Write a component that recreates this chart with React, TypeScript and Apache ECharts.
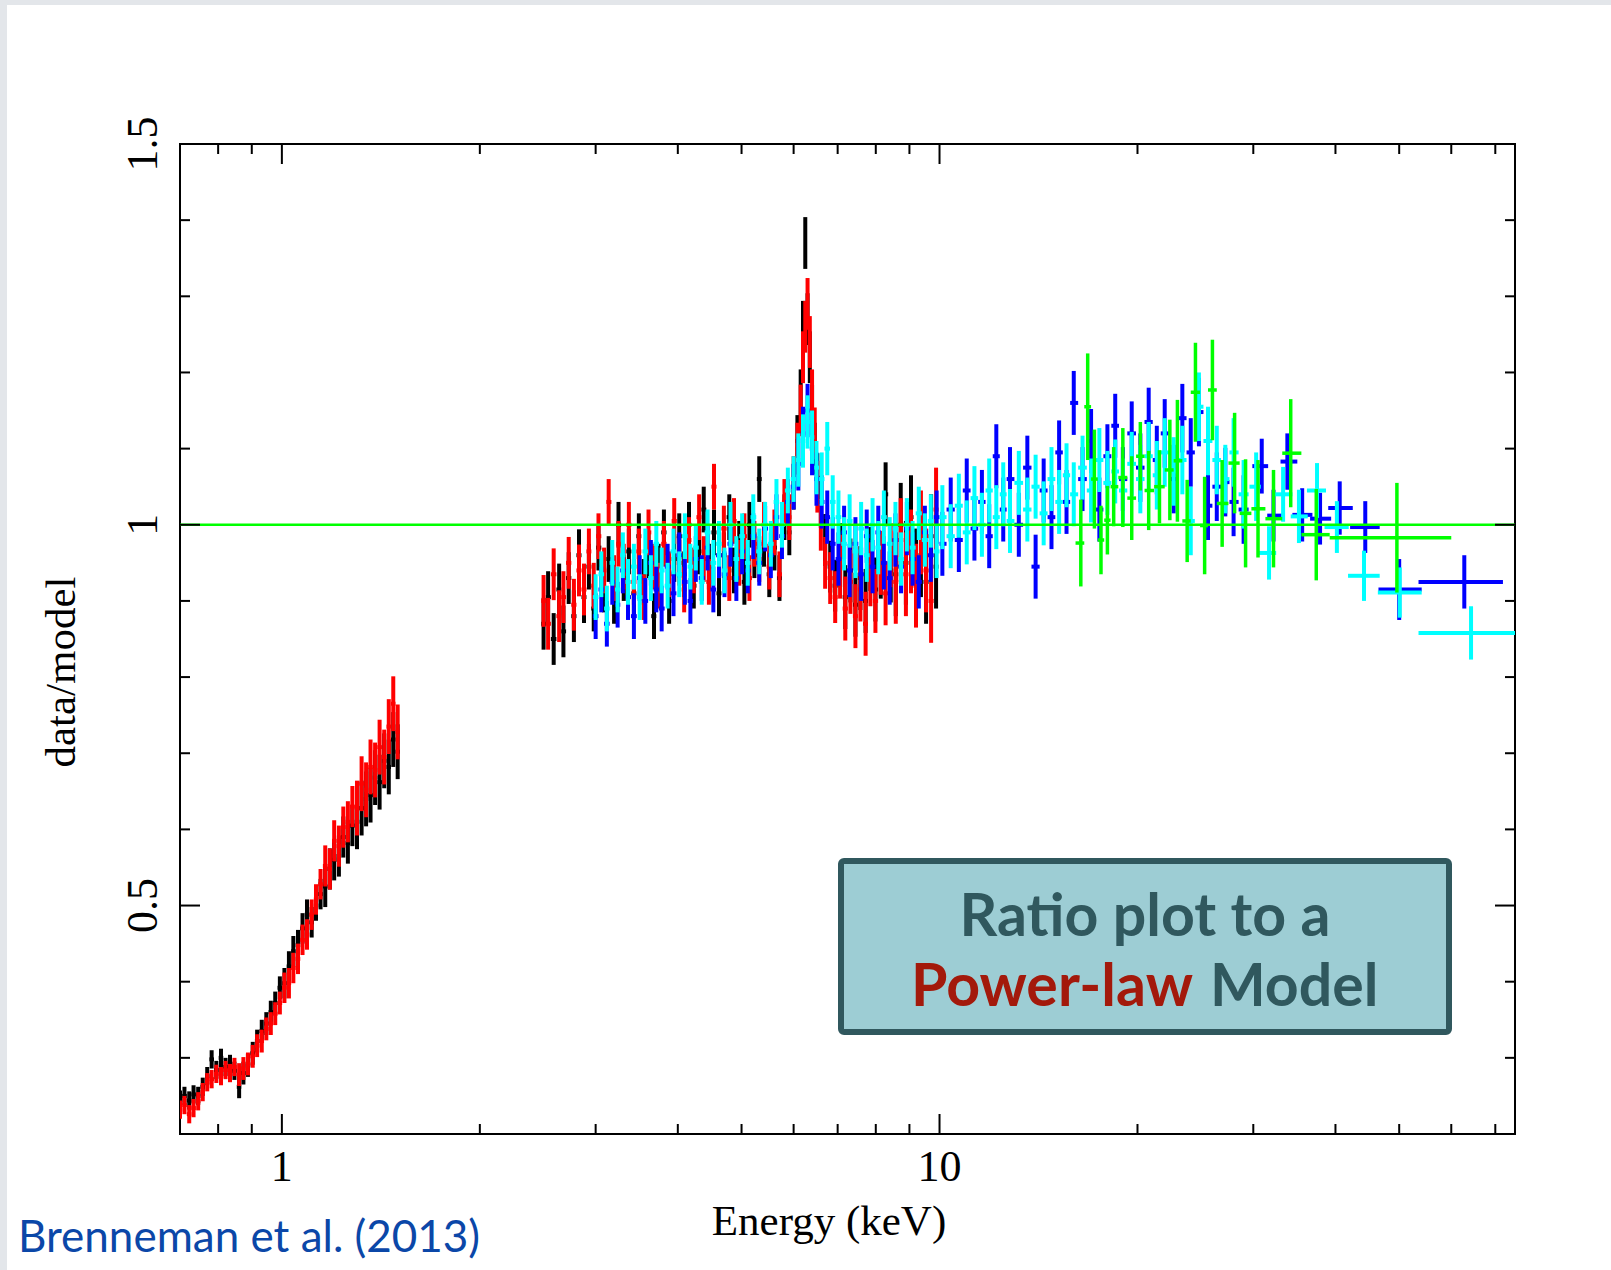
import React, { useEffect, useRef } from 'react';
import * as echarts from 'echarts';

const X_MIN = 0.7;
const X_MAX = 75;
const Y_MIN = 0.2;
const Y_MAX = 1.5;

const xMajorTicks = [1, 10];
const xMinorTicks = [0.8, 0.9, 2, 3, 4, 5, 6, 7, 8, 9, 20, 30, 40, 50, 60, 70];
const yMajorTicks = [0.5, 1.0];
const yMinorTicks = [0.3, 0.4, 0.6, 0.7, 0.8, 0.9, 1.1, 1.2, 1.3, 1.4];

// ---- soft band (black / red), 0.7 - 1.5 keV
const lowE = [0.700, 0.711, 0.723, 0.734, 0.746, 0.758, 0.770, 0.782, 0.795, 0.808, 0.821, 0.834, 0.847, 0.861, 0.874, 0.888, 0.903, 0.917, 0.932, 0.947, 0.962, 0.977, 0.993, 1.009, 1.025, 1.041, 1.058, 1.075, 1.092, 1.110, 1.127, 1.145, 1.164, 1.183, 1.201, 1.221, 1.240, 1.260, 1.280, 1.301, 1.322, 1.343, 1.364, 1.386, 1.408, 1.431, 1.454, 1.477, 1.500];
const blackLowR = [0.245, 0.250, 0.244, 0.252, 0.250, 0.262, 0.276, 0.298, 0.284, 0.300, 0.288, 0.292, 0.283, 0.262, 0.280, 0.290, 0.306, 0.322, 0.335, 0.345, 0.360, 0.372, 0.392, 0.398, 0.420, 0.440, 0.448, 0.470, 0.488, 0.478, 0.500, 0.515, 0.525, 0.548, 0.560, 0.565, 0.590, 0.582, 0.605, 0.610, 0.628, 0.640, 0.645, 0.668, 0.662, 0.690, 0.682, 0.718, 0.702];
const redLowR = [0.232, 0.238, 0.226, 0.234, 0.243, 0.255, 0.268, 0.272, 0.279, 0.276, 0.284, 0.280, 0.288, 0.278, 0.286, 0.292, 0.302, 0.316, 0.322, 0.338, 0.345, 0.358, 0.372, 0.392, 0.398, 0.418, 0.430, 0.455, 0.462, 0.488, 0.508, 0.528, 0.552, 0.548, 0.585, 0.578, 0.603, 0.610, 0.630, 0.628, 0.660, 0.652, 0.682, 0.678, 0.708, 0.695, 0.735, 0.765, 0.728];
const lowErr = [[0.85, 0.012], [1.0, 0.015], [1.15, 0.02], [1.3, 0.027], [1.6, 0.036]];

// ---- hard band (black / red), 2.5 - 10 keV
const hiE = [2.50, 2.54, 2.59, 2.64, 2.68, 2.73, 2.78, 2.83, 2.88, 2.93, 2.98, 3.03, 3.09, 3.14, 3.20, 3.25, 3.31, 3.37, 3.43, 3.49, 3.55, 3.61, 3.68, 3.74, 3.81, 3.88, 3.95, 4.02, 4.09, 4.16, 4.23, 4.31, 4.38, 4.46, 4.54, 4.62, 4.70, 4.79, 4.87, 4.96, 5.05, 5.14, 5.23, 5.32, 5.41, 5.51, 5.61, 5.71, 5.81, 5.91, 6.00, 6.08, 6.15, 6.20, 6.25, 6.30, 6.35, 6.40, 6.46, 6.52, 6.60, 6.70, 6.82, 6.94, 7.06, 7.19, 7.32, 7.45, 7.58, 7.72, 7.85, 7.99, 8.14, 8.28, 8.43, 8.58, 8.73, 8.89, 9.05, 9.21, 9.37, 9.54, 9.71, 9.88];
const blackHiR = [0.870, 0.905, 0.850, 0.915, 0.860, 0.930, 0.880, 0.960, 0.905, 0.945, 0.890, 0.970, 0.915, 0.955, 0.900, 1.000, 0.930, 0.965, 0.910, 0.985, 0.925, 0.960, 0.880, 0.945, 0.990, 0.900, 0.955, 0.985, 0.935, 1.000, 0.920, 0.965, 1.020, 0.945, 0.990, 0.910, 0.960, 1.010, 0.940, 0.975, 0.925, 1.000, 0.960, 1.060, 0.975, 0.935, 0.970, 0.930, 1.010, 0.990, 1.050, 1.110, 1.170, 1.260, 1.370, 1.270, 1.220, 1.150, 1.100, 1.060, 1.030, 0.980, 0.945, 0.920, 0.960, 0.905, 0.940, 0.895, 0.930, 0.900, 0.955, 0.915, 0.945, 1.040, 0.940, 0.935, 1.000, 0.950, 1.010, 0.940, 0.960, 0.925, 0.985, 0.945];
const redHiR = [0.900, 0.870, 0.935, 0.880, 0.905, 0.950, 0.895, 0.940, 0.915, 0.965, 0.920, 0.985, 0.940, 1.030, 0.930, 0.975, 0.945, 1.000, 0.925, 0.965, 0.905, 0.990, 0.945, 0.920, 0.975, 0.935, 1.005, 0.950, 0.915, 0.980, 0.940, 1.010, 0.955, 0.925, 1.050, 0.960, 0.995, 0.930, 1.005, 0.950, 0.985, 0.930, 0.975, 0.955, 1.000, 0.945, 0.990, 0.935, 1.030, 1.010, 1.060, 1.100, 1.150, 1.220, 1.260, 1.290, 1.240, 1.170, 1.120, 1.050, 1.000, 0.950, 0.930, 0.905, 0.945, 0.890, 0.925, 0.880, 0.915, 0.870, 0.935, 0.900, 0.950, 0.910, 0.960, 0.925, 0.980, 0.935, 0.965, 0.920, 0.990, 0.940, 0.900, 1.020];
const hiErr = [[2.9, 0.034], [6.0, 0.03], [7.0, 0.034], [8.5, 0.042], [11, 0.055]];

// ---- FPMA (blue) / FPMB (cyan)
const nuE = [3.00, 3.06, 3.12, 3.18, 3.24, 3.30, 3.36, 3.43, 3.50, 3.57, 3.64, 3.71, 3.78, 3.86, 3.94, 4.02, 4.10, 4.18, 4.26, 4.35, 4.44, 4.53, 4.62, 4.71, 4.81, 4.91, 5.01, 5.11, 5.21, 5.32, 5.43, 5.54, 5.65, 5.76, 5.88, 6.00, 6.10, 6.20, 6.30, 6.40, 6.50, 6.62, 6.75, 6.88, 7.02, 7.16, 7.30, 7.45, 7.60, 7.75, 7.91, 8.07, 8.23, 8.40, 8.57, 8.74, 8.92, 9.10, 9.30, 9.50, 9.70, 9.90, 10.1, 10.4, 10.7, 11.0, 11.3, 11.6, 11.9, 12.2, 12.5, 12.8, 13.2, 13.6, 14.0, 14.4, 14.8, 15.2, 15.6, 16.0, 16.5, 17.0, 17.5, 18.0, 18.5, 19.0, 19.6, 20.2, 20.8, 21.4, 22.0, 22.7, 23.4, 24.1, 24.8, 25.6, 26.4, 27.2, 28.0, 29.0];
const blueR = [0.880, 0.915, 0.870, 0.925, 0.895, 0.940, 0.905, 0.880, 0.930, 0.900, 0.950, 0.915, 0.890, 0.945, 0.910, 0.960, 0.925, 0.900, 0.955, 0.930, 0.970, 0.915, 0.960, 0.935, 0.975, 0.930, 0.965, 0.940, 0.985, 0.950, 0.995, 0.960, 1.010, 0.985, 1.030, 1.050, 1.080, 1.120, 1.150, 1.100, 1.060, 1.030, 1.010, 0.975, 0.955, 0.990, 0.940, 0.975, 0.935, 0.985, 0.945, 0.990, 0.950, 0.930, 0.980, 0.945, 0.995, 0.955, 0.925, 0.990, 0.960, 1.010, 0.975, 1.020, 0.980, 1.045, 0.995, 1.030, 0.985, 1.090, 1.020, 1.060, 1.000, 1.075, 0.945, 1.045, 1.010, 1.095, 1.030, 1.160, 1.060, 1.110, 1.020, 1.090, 1.130, 1.060, 1.120, 1.075, 1.135, 1.085, 1.120, 1.060, 1.140, 1.095, 1.148, 1.025, 1.050, 1.056, 1.030, 1.020];
const cyanR = [0.905, 0.935, 0.890, 0.950, 0.915, 0.960, 0.925, 0.945, 0.905, 0.965, 0.930, 0.975, 0.940, 0.920, 0.965, 0.935, 0.985, 0.945, 0.970, 0.925, 0.990, 0.950, 0.975, 0.940, 1.000, 0.955, 0.985, 0.950, 1.010, 0.965, 1.000, 0.975, 1.030, 1.000, 1.045, 1.060, 1.085, 1.110, 1.135, 1.115, 1.075, 1.060, 1.100, 1.030, 1.010, 0.975, 1.005, 0.965, 0.995, 0.960, 1.000, 0.970, 1.010, 0.975, 0.995, 0.955, 1.000, 0.970, 1.015, 0.980, 1.005, 0.965, 1.010, 0.985, 1.025, 0.990, 1.035, 1.000, 1.045, 1.010, 1.040, 1.005, 1.055, 1.020, 1.050, 1.015, 1.060, 1.030, 1.065, 1.040, 1.075, 1.045, 1.085, 1.055, 1.070, 1.045, 1.080, 1.060, 1.090, 1.065, 1.095, 1.070, 1.085, 1.005, 1.155, 1.110, 1.085, 1.060, 1.095, 1.040];
const nuErr = [[6.0, 0.03], [10, 0.035], [20, 0.042], [80, 0.045]];

// wide high-energy bins: [E, ratio, error, Elo, Ehi]
const blueTail = [
  [30.9, 1.077, 0.036, 29.9, 31.6], [32.2, 1.012, 0.034, 31.5, 33.2], [33.8, 1.083, 0.037, 33.0, 35.0],
  [35.6, 1.013, 0.035, 34.4, 36.9], [37.9, 1.008, 0.034, 36.6, 39.4], [40.6, 1.022, 0.035, 39.0, 42.5],
  [44.4, 0.997, 0.034, 42.1, 46.7], [50.0, 0.915, 0.040, 46.5, 54.1], [62.8, 0.925, 0.035, 53.5, 71.9],
];
const cyanTail = [
  [30.3, 1.050, 0.045, 29.6, 30.8], [31.7, 0.963, 0.035, 30.6, 32.5], [33.3, 1.040, 0.036, 32.3, 34.4],
  [35.2, 1.011, 0.035, 34.2, 36.3], [37.5, 1.045, 0.036, 36.2, 38.7], [40.2, 0.997, 0.034, 38.5, 41.9],
  [44.2, 0.933, 0.033, 41.8, 46.7], [50.1, 0.911, 0.033, 46.4, 54.1], [64.3, 0.858, 0.035, 53.5, 75.0],
];
const greenPts = [
  [16.4, 0.976, 0.057, 16.1, 16.6], [16.8, 1.155, 0.070, 16.6, 17.0], [17.2, 1.060, 0.065, 17.0, 17.4],
  [17.6, 0.980, 0.045, 17.4, 17.8], [18.0, 1.006, 0.045, 17.8, 18.2], [18.4, 1.050, 0.052, 18.2, 18.7],
  [19.0, 1.062, 0.065, 18.7, 19.3], [19.6, 1.035, 0.055, 19.3, 19.9], [20.2, 1.090, 0.045, 19.9, 20.5],
  [20.8, 1.045, 0.052, 20.5, 21.2], [21.6, 1.050, 0.048, 21.2, 22.0], [22.4, 1.072, 0.066, 22.0, 22.7],
  [23.0, 1.084, 0.080, 22.7, 23.4], [23.8, 1.005, 0.054, 23.4, 24.1], [24.5, 1.174, 0.065, 24.1, 24.9],
  [25.3, 0.999, 0.064, 24.9, 25.6], [26.0, 1.177, 0.066, 25.6, 26.4], [26.9, 1.028, 0.057, 26.4, 27.5],
  [28.1, 1.081, 0.066, 27.5, 28.6], [29.2, 1.015, 0.071, 28.6, 29.8], [30.5, 1.021, 0.064, 29.8, 31.3],
  [32.2, 1.008, 0.064, 31.3, 33.2], [34.2, 1.094, 0.071, 33.2, 35.5], [37.4, 0.987, 0.060, 35.5, 39.2],
  [49.6, 0.983, 0.072, 39.2, 60.0],
];

function errOf(e: number, table: number[][]): number {
  for (const [lim, er] of table) if (e <= lim) return er;
  return table[table.length - 1][1];
}

function withBins(E: number[], R: number[], table: number[][]): number[][] {
  return E.map((e, i) => {
    const prev = i > 0 ? E[i - 1] : (e * e) / E[i + 1];
    const next = i < E.length - 1 ? E[i + 1] : (e * e) / E[i - 1];
    return [e, R[i], errOf(e, table), Math.sqrt(prev * e), Math.sqrt(e * next)];
  });
}

function crossSeries(name: string, data: number[][], color: string, width: number) {
  return {
    type: 'custom',
    name,
    clip: true,
    data,
    encode: { x: 0, y: 1 },
    renderItem: (_p: any, api: any) => {
      const e = api.value(0), r = api.value(1), er = api.value(2), lo = api.value(3), hi = api.value(4);
      const a = api.coord([lo, r]);
      const b = api.coord([hi, r]);
      const t = api.coord([e, r + er]);
      const d = api.coord([e, r - er]);
      const st = { stroke: color, lineWidth: width };
      return {
        type: 'group',
        children: [
          { type: 'line', shape: { x1: a[0], y1: a[1], x2: b[0], y2: b[1] }, style: st },
          { type: 'line', shape: { x1: t[0], y1: t[1], x2: d[0], y2: d[1] }, style: st },
        ],
      };
    },
  };
}

const tickData: number[][] = [
  ...xMajorTicks.map((v) => [v, Y_MIN, 0, 20]),
  ...xMinorTicks.map((v) => [v, Y_MIN, 0, 10]),
  ...yMajorTicks.map((v) => [X_MIN, v, 1, 20]),
  ...yMinorTicks.map((v) => [X_MIN, v, 1, 10]),
];

export default function App() {
  const ref = useRef<HTMLDivElement>(null);
  useEffect(() => {
    if (!ref.current) return;
    const chart = echarts.init(ref.current, null, { renderer: 'svg' });
    const serif = 'Liberation Serif';
    const option: any = {
      animation: false,
      backgroundColor: '#ffffff',
      grid: { left: 180, top: 144, width: 1335, height: 990, show: true, borderColor: '#000', borderWidth: 2, backgroundColor: 'transparent' },
      xAxis: {
        type: 'log', logBase: 10, min: X_MIN, max: X_MAX,
        axisLine: { show: false }, axisTick: { show: false }, splitLine: { show: false }, minorTick: { show: false },
        axisLabel: {
          margin: 10, fontSize: 44, fontFamily: serif, color: '#000',
          formatter: (v: number) => (Math.abs(v - 1) < 1e-6 ? '1' : Math.abs(v - 10) < 1e-6 ? '10' : ''),
        },
      },
      yAxis: {
        type: 'value', min: Y_MIN, max: Y_MAX, interval: 0.1,
        axisLine: { show: false }, axisTick: { show: false }, splitLine: { show: false },
        axisLabel: {
          rotate: 90, margin: 16, fontSize: 44, fontFamily: serif, color: '#000', showMaxLabel: true, showMinLabel: true,
          formatter: (v: number) => {
            const s = Math.round(v * 10);
            return s === 5 ? '0.5' : s === 10 ? '1' : s === 15 ? '1.5' : '';
          },
        },
      },
      series: [
        crossSeries('black-soft', withBins(lowE, blackLowR, lowErr), '#000000', 4),
        crossSeries('red-soft', withBins(lowE, redLowR, lowErr), '#ff0000', 4),
        crossSeries('black-hard', withBins(hiE, blackHiR, hiErr), '#000000', 4),
        crossSeries('red-hard', withBins(hiE, redHiR, hiErr), '#ff0000', 4),
        crossSeries('fpma', [...withBins(nuE, blueR, nuErr), ...blueTail], '#0000ff', 4),
        crossSeries('fpmb', [...withBins(nuE, cyanR, nuErr), ...cyanTail], '#00ffff', 4),
        crossSeries('pin', greenPts, '#00ff00', 3.5),
        {
          type: 'line', name: 'model', data: [[X_MIN, 1], [X_MAX, 1]], symbol: 'none',
          lineStyle: { color: '#00ff00', width: 2.5 }, z: 5,
        },
        {
          type: 'custom', name: 'ticks', data: tickData, encode: { x: 0, y: 1 }, z: 6,
          renderItem: (_p: any, api: any) => {
            const x = api.value(0), y = api.value(1), kind = api.value(2), len = api.value(3);
            const st = { stroke: '#000', lineWidth: 2 };
            if (kind === 0) {
              const b = api.coord([x, Y_MIN]);
              const t = api.coord([x, Y_MAX]);
              return { type: 'group', children: [
                { type: 'line', shape: { x1: b[0], y1: b[1], x2: b[0], y2: b[1] - len }, style: st },
                { type: 'line', shape: { x1: t[0], y1: t[1], x2: t[0], y2: t[1] + len }, style: st },
              ] };
            }
            const l = api.coord([X_MIN, y]);
            const r = api.coord([X_MAX, y]);
            return { type: 'group', children: [
              { type: 'line', shape: { x1: l[0], y1: l[1], x2: l[0] + len, y2: l[1] }, style: st },
              { type: 'line', shape: { x1: r[0], y1: r[1], x2: r[0] - len, y2: r[1] }, style: st },
            ] };
          },
        },
      ],
      graphic: [
        { type: 'rect', silent: true, z: 0, shape: { x: 0, y: 0, width: 1611, height: 5 }, style: { fill: '#e3e6ea' } },
        { type: 'rect', silent: true, z: 0, shape: { x: 0, y: 0, width: 7, height: 1270 }, style: { fill: '#e3e6ea' } },
        {
          type: 'text', x: 829, y: 1220, z: 10,
          style: { text: 'Energy (keV)', fill: '#000', fontSize: 43, fontFamily: serif, align: 'center', verticalAlign: 'middle' },
        },
        {
          type: 'text', x: 60, y: 672, rotation: Math.PI / 2, z: 10,
          style: { text: 'data/model', fill: '#000', fontSize: 43, fontFamily: serif, align: 'center', verticalAlign: 'middle' },
        },
        {
          type: 'text', x: 18, y: 1235, z: 10,
          style: { text: 'Brenneman et al. (2013)', fill: '#0b47a8', fontSize: 44, fontFamily: 'Lato', align: 'left', verticalAlign: 'middle' },
        },
        {
          type: 'rect', z: 20, shape: { x: 841, y: 861, width: 608, height: 171, r: 3 },
          style: { fill: '#9dcdd4', stroke: '#30585e', lineWidth: 6 },
        },
        {
          type: 'text', x: 1145, y: 913, z: 21,
          style: { text: 'Ratio plot to a', fill: '#30585e', fontSize: 59, fontWeight: 'bold', fontFamily: 'Lato', align: 'center', verticalAlign: 'middle' },
        },
        {
          type: 'text', x: 1193, y: 983, z: 21,
          style: { text: 'Power-law', fill: '#a3190b', fontSize: 59, fontWeight: 'bold', fontFamily: 'Lato', align: 'right', verticalAlign: 'middle' },
        },
        {
          type: 'text', x: 1210, y: 983, z: 21,
          style: { text: 'Model', fill: '#30585e', fontSize: 59, fontWeight: 'bold', fontFamily: 'Lato', align: 'left', verticalAlign: 'middle' },
        },
      ],
    };
    chart.setOption(option);
    return () => chart.dispose();
  }, []);
  return <div ref={ref} style={{ position: 'absolute', left: 0, top: 0, width: 1611, height: 1270 }} />;
}
